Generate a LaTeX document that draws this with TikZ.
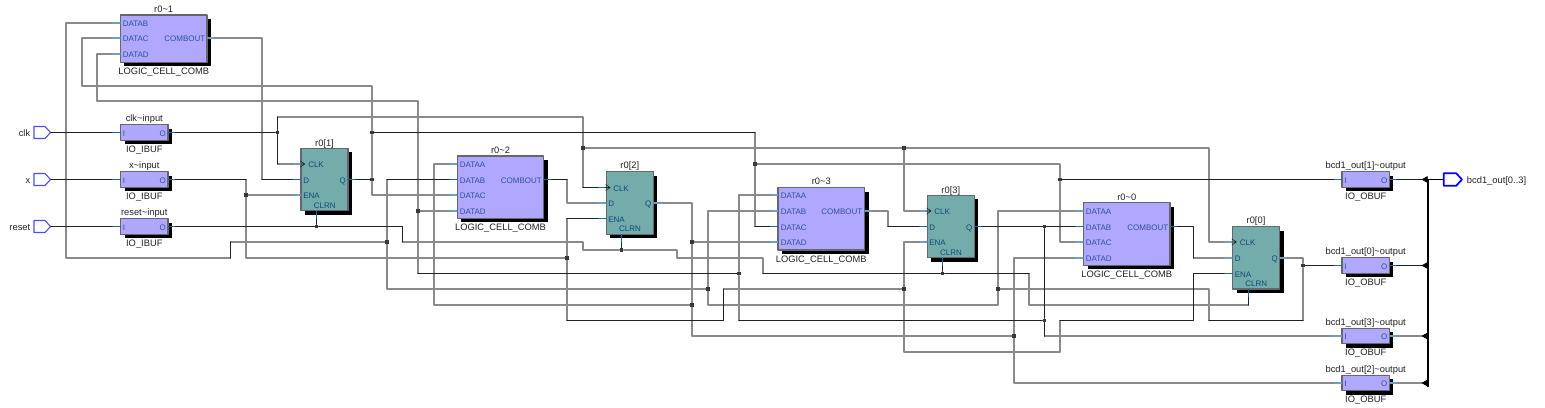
\documentclass[tikz,border=0pt]{standalone}
\usepackage{fontspec}
\setmainfont{Liberation Sans}
\usetikzlibrary{arrows.meta,shadows,shapes.symbols}
\pgfdeclarelayer{front}
\pgfsetlayers{main,front}
\definecolor{lavcell}{HTML}{B0A8FF}
\definecolor{tealcell}{HTML}{74ACAC}
\definecolor{cellline}{HTML}{666670}
\definecolor{wirecol}{HTML}{222222}
\definecolor{gwirecol}{HTML}{8A8A8A}
\definecolor{stubcol}{HTML}{1A6A9A}
\definecolor{gstubcol}{HTML}{6FA0BE}
\definecolor{lavtext}{HTML}{2F4F9F}
\definecolor{tealtext}{HTML}{104A70}
\tikzset{
  cellbox/.style={draw=cellline,line width=0.9pt,inner sep=0pt,general shadow={shadow xshift=3pt,shadow yshift=-3pt,fill=black}},
  lcell/.style={cellbox,fill=lavcell,minimum width=64.9pt},
  ffcell/.style={cellbox,fill=tealcell,minimum width=35.25pt,minimum height=46.9pt},
  iocell/.style={cellbox,fill=lavcell,minimum width=35.6pt,minimum height=11.5pt},
  celltext/.style={inner sep=0pt,text height=6.5pt,text depth=0.9pt,text=wirecol,font=\fontsize{7}{8}\selectfont},
  lavport/.style={inner sep=0pt,text height=5.4pt,text depth=0pt,text=lavtext,font=\fontsize{6}{7}\selectfont},
  ffport/.style={inner sep=0pt,text height=5.4pt,text depth=0pt,text=tealtext,font=\fontsize{6}{7}\selectfont},
  wire/.style={draw=wirecol,line width=0.85pt},
  gwire/.style={draw=gwirecol,line width=0.85pt},
  stub/.style={draw=stubcol,line width=0.85pt},
  gstub/.style={draw=gstubcol,line width=0.85pt},
  jdot/.style={fill=wirecol!90,inner sep=0pt,minimum size=2.8pt},
  inpin/.style={draw=blue!70!white,fill=white,line width=0.8pt,shape=signal,signal to=east,signal from=nowhere,signal pointer angle=95,inner sep=0pt,minimum width=12.4pt,minimum height=9pt},
  outpin/.style={draw=blue,fill=white,line width=1.3pt,shape=signal,signal to=east,signal from=nowhere,signal pointer angle=95,inner sep=0pt,minimum width=13.6pt,minimum height=9.4pt},
  bus/.style={draw=black,line width=1.3pt},
  bustip/.style={draw=black,line width=0.5pt,-{Triangle[length=4.6pt,width=5pt]}}
}
\begin{document}
\begin{tikzpicture}[line cap=round,line join=round,x=0.75pt,y=-0.75pt]
\useasboundingbox (0,0) rectangle (1545,407);
\node[inpin] (clkpin) at (39.5,132.5) {};
\node[inpin] (xpin) at (39.5,179.5) {};
\node[inpin] (resetpin) at (39.5,226.5) {};
\node[celltext,anchor=east] (clkpinname) at (30.5,132.5) {clk};
\node[celltext,anchor=east] (xpinname) at (30.5,179.5) {x};
\node[celltext,anchor=east] (resetpinname) at (30.5,226.5) {reset};
\node[iocell] (clkbuf) at (144.3,132.5) {};
\node[iocell] (xbuf) at (144.3,179.5) {};
\node[iocell] (resetbuf) at (144.3,226.5) {};
\node[lavport,anchor=west] (clkbufi) at (122.5,132.5) {I};
\node[lavport,anchor=east] (clkbufo) at (166,132.5) {O};
\node[lavport,anchor=west] (xbufi) at (122.5,179.5) {I};
\node[lavport,anchor=east] (xbufo) at (166,179.5) {O};
\node[lavport,anchor=west] (resetbufi) at (122.5,226.5) {I};
\node[lavport,anchor=east] (resetbufo) at (166,226.5) {O};
\node[celltext] (clkbufname) at (144.3,118) {clk\textasciitilde input};
\node[celltext] (clkbuftype) at (144.3,149) {IO\_IBUF};
\node[celltext] (xbufname) at (144.3,165) {x\textasciitilde input};
\node[celltext] (xbuftype) at (144.3,196) {IO\_IBUF};
\node[celltext] (resetbufname) at (144.3,212) {reset\textasciitilde input};
\node[celltext] (resetbuftype) at (144.3,243) {IO\_IBUF};
\node[lcell,minimum height=35.5pt] (lc1) at (163.7,38.7) {};
\node[lavport,anchor=west] (lc1b) at (122.5,23) {DATAB};
\node[lavport,anchor=west] (lc1c) at (122.5,38) {DATAC};
\node[lavport,anchor=west] (lc1d) at (122.5,54) {DATAD};
\node[lavport,anchor=east] (lc1out) at (205.5,38) {COMBOUT};
\node[celltext] (lc1name) at (163.7,9) {r0\textasciitilde 1};
\node[celltext] (lc1type) at (163.7,71) {LOGIC\_CELL\_COMB};
\node[lcell,minimum height=46.7pt] (lc2) at (500.5,187.2) {};
\node[lavport,anchor=west] (lc2a) at (459.5,164) {DATAA};
\node[lavport,anchor=west] (lc2b) at (459.5,179.5) {DATAB};
\node[lavport,anchor=west] (lc2c) at (459.5,195) {DATAC};
\node[lavport,anchor=west] (lc2d) at (459.5,211) {DATAD};
\node[lavport,anchor=east] (lc2out) at (542,179.5) {COMBOUT};
\node[celltext] (lc2name) at (500.5,150) {r0\textasciitilde 2};
\node[celltext] (lc2type) at (500.5,227) {LOGIC\_CELL\_COMB};
\node[lcell,minimum height=46.7pt] (lc3) at (821.3,218.8) {};
\node[lavport,anchor=west] (lc3a) at (780.5,195) {DATAA};
\node[lavport,anchor=west] (lc3b) at (780.5,211) {DATAB};
\node[lavport,anchor=west] (lc3c) at (780.5,226.5) {DATAC};
\node[lavport,anchor=west] (lc3d) at (780.5,242) {DATAD};
\node[lavport,anchor=east] (lc3out) at (862.5,211) {COMBOUT};
\node[celltext] (lc3name) at (821.3,181) {r0\textasciitilde 3};
\node[celltext] (lc3type) at (821.3,259) {LOGIC\_CELL\_COMB};
\node[lcell,minimum height=46.7pt] (lc0) at (1126.8,234) {};
\node[lavport,anchor=west] (lc0a) at (1085.5,211) {DATAA};
\node[lavport,anchor=west] (lc0b) at (1085.5,226.5) {DATAB};
\node[lavport,anchor=west] (lc0c) at (1085.5,242) {DATAC};
\node[lavport,anchor=west] (lc0d) at (1085.5,258) {DATAD};
\node[lavport,anchor=east] (lc0out) at (1168.5,226.5) {COMBOUT};
\node[celltext] (lc0name) at (1126.8,197) {r0\textasciitilde 0};
\node[celltext] (lc0type) at (1126.8,273.7) {LOGIC\_CELL\_COMB};
\node[ffcell] (ff1) at (324.5,179.5) {};
\node[ffport,anchor=west] (ff1clk) at (308,164) {CLK};
\node[ffport,anchor=west] (ff1d) at (303,179.5) {D};
\node[ffport,anchor=west] (ff1ena) at (303,195) {ENA};
\node[ffport,anchor=east] (ff1q) at (346,179.5) {Q};
\node[ffport] (ff1clrn) at (324.7,205) {CLRN};
\node[celltext] (ff1name) at (324.5,142.7) {r0[1]};
\node[ffcell] (ff2) at (629.8,203) {};
\node[ffport,anchor=west] (ff2clk) at (613,187.5) {CLK};
\node[ffport,anchor=west] (ff2d) at (608,203) {D};
\node[ffport,anchor=west] (ff2ena) at (608,218.5) {ENA};
\node[ffport,anchor=east] (ff2q) at (651.5,203) {Q};
\node[ffport] (ff2clrn) at (630,228.3) {CLRN};
\node[celltext] (ff2name) at (629.8,165) {r0[2]};
\node[ffcell] (ff3) at (950.8,226.5) {};
\node[ffport,anchor=west] (ff3clk) at (934,211) {CLK};
\node[ffport,anchor=west] (ff3d) at (929,226.5) {D};
\node[ffport,anchor=west] (ff3ena) at (929,242) {ENA};
\node[ffport,anchor=east] (ff3q) at (972.5,226.5) {Q};
\node[ffport] (ff3clrn) at (951,252) {CLRN};
\node[celltext] (ff3name) at (950.8,189.3) {r0[3]};
\node[ffcell] (ff0) at (1256,257.8) {};
\node[ffport,anchor=west] (ff0clk) at (1239.5,242) {CLK};
\node[ffport,anchor=west] (ff0d) at (1234.5,258) {D};
\node[ffport,anchor=west] (ff0ena) at (1234.5,273.5) {ENA};
\node[ffport,anchor=east] (ff0q) at (1278,258) {Q};
\node[ffport] (ff0clrn) at (1256.3,283) {CLRN};
\node[celltext] (ff0name) at (1256,220) {r0[0]};
\node[iocell] (obuf1) at (1365.7,179.5) {};
\node[iocell] (obuf0) at (1365.7,265.5) {};
\node[iocell] (obuf3) at (1365.7,336) {};
\node[iocell] (obuf2) at (1365.7,383) {};
\node[lavport,anchor=west] (obuf1i) at (1344,179.5) {I};
\node[lavport,anchor=east] (obuf1o) at (1387.5,179.5) {O};
\node[lavport,anchor=west] (obuf0i) at (1344,265.5) {I};
\node[lavport,anchor=east] (obuf0o) at (1387.5,265.5) {O};
\node[lavport,anchor=west] (obuf3i) at (1344,336) {I};
\node[lavport,anchor=east] (obuf3o) at (1387.5,336) {O};
\node[lavport,anchor=west] (obuf2i) at (1344,383) {I};
\node[lavport,anchor=east] (obuf2o) at (1387.5,383) {O};
\node[celltext] (obuf1name) at (1365.7,165) {bcd1\_out[1]\textasciitilde output};
\node[celltext] (obuf1type) at (1365.7,196) {IO\_OBUF};
\node[celltext] (obuf0name) at (1365.7,251) {bcd1\_out[0]\textasciitilde output};
\node[celltext] (obuf0type) at (1365.7,282) {IO\_OBUF};
\node[celltext] (obuf3name) at (1365.7,322) {bcd1\_out[3]\textasciitilde output};
\node[celltext] (obuf3type) at (1365.7,351.7) {IO\_OBUF};
\node[celltext] (obuf2name) at (1365.7,369) {bcd1\_out[2]\textasciitilde output};
\node[celltext] (obuf2type) at (1365.7,399) {IO\_OBUF};
\node[outpin] (outbus) at (1450,179.5) {};
\node[celltext,anchor=west] (outbusname) at (1466.7,179.5) {bcd1\_out[0..3]};
\coordinate (bustop) at (1428,179.5);
\coordinate (busbot) at (1428,386.5);
\coordinate (jr4) at (1248.5,305);
\begin{pgfonlayer}{front}
\node[jdot] (jclk1) at (277.5,132.5) {};
\node[jdot] (jclk2) at (583,148) {};
\node[jdot] (jclk3) at (904,148) {};
\node[jdot] (jx1) at (246,195) {};
\node[jdot] (jx2) at (567,258) {};
\node[jdot] (jx3) at (904,289) {};
\node[jdot] (jr1) at (316.5,226.5) {};
\node[jdot] (jr2) at (621.5,250) {};
\node[jdot] (jr3) at (942.5,273.5) {};
\node[jdot] (jq1a) at (372,132.5) {};
\node[jdot] (jq1b) at (372,179.5) {};
\node[jdot] (jq1c) at (755,164) {};
\node[jdot] (jq1d) at (1060,179.5) {};
\node[jdot] (jq3a) at (418,211) {};
\node[jdot] (jq3b) at (739,273.5) {};
\node[jdot] (jq3c) at (1044.5,320.5) {};
\node[jdot] (jq3d) at (1044.5,226.5) {};
\node[jdot] (jq0a) at (387,242) {};
\node[jdot] (jq0b) at (708,289) {};
\node[jdot] (jq0c) at (998,289) {};
\node[jdot] (jq0d) at (1303,265.5) {};
\node[jdot] (jq2a) at (692,242) {};
\node[jdot] (jq2b) at (692,305) {};
\node[jdot] (jq2c) at (1014,336) {};
\end{pgfonlayer}
\draw[gwire] (277.5,117) -- (583,117) -- (jclk2);
\draw[gwire] (277.5,164) -- (ff1clk -| ff1.west);
\draw[gwire] (jclk2) -- (583,187.5);
\draw[gwire] (jclk2) -- (jclk3);
\draw[gwire] (jclk3) -- (904,211) -- (ff3clk -| ff3.west);
\draw[gwire] (jclk3) -- (1209,148) -- (1209,242) -- (ff0clk -| ff0.west);
\draw[gwire] (246,179.5) -- (jx1);
\draw[gwire] (jx1) -- (ff1ena -| ff1.west);
\draw[gwire] (jx1) -- (246,258) -- (jx2);
\draw[gwire] (jx2) -- (567,218.5);
\draw[gwire] (jx2) -- (567,320.5);
\draw[gwire] (723.5,289) -- (jx3);
\draw[gwire] (jx3) -- (904,242) -- (ff3ena -| ff3.west);
\draw[gwire] (jx3) -- (904,352) -- (1060,352) -- (1060,320.5);
\draw[gwire] (402.5,242) -- (583,242) -- (583,250) -- (jr2);
\draw[gwire] (jr2) -- (677,250) -- (677,258) -- (763,258) -- (763,273.5);
\draw[gwire] (1029,273.5) -- (1029,305) -- (jr4);
\draw[gwire] (lc1out -| lc1.east) -- (262,38) -- (262,179.5);
\draw[gwire] (567,179.5) -- (567,203) -- (ff2d -| ff2.west);
\draw[gwire] (lc3out -| lc3.east) -- (888,211) -- (888,226.5);
\draw[gwire] (1193.5,258) -- (ff0d -| ff0.west);
\draw[gwire] (lc1c -| lc1.west) -- (82,38) -- (82,86) -- (372,86) -- (jq1a);
\draw[gwire] (jq1a) -- (jq1b) -- (372,195) -- (lc2c -| lc2.west);
\draw[gwire] (755,132.5) -- (jq1c);
\draw[gwire] (jq1c) -- (755,226.5);
\draw[gwire] (jq1c) -- (1060,164) -- (jq1d);
\draw[gwire] (jq1d) -- (1060,242) -- (lc0c -| lc0.west);
\draw[gwire] (lc1d -| lc1.west) -- (97,54) -- (97,101) -- (418,101) -- (jq3a);
\draw[gwire] (jq3a) -- (lc2d -| lc2.west);
\draw[gwire] (jq3a) -- (418,273.5);
\draw[gwire] (jq3b) -- (739,195) -- (lc3a -| lc3.west);
\draw[gwire] (jq3b) -- (739,320.5);
\draw[gwire] (1044.5,336) -- (obuf3i -| obuf3.west);
\draw[gwire] (lc1b -| lc1.west) -- (66,23) -- (66,258) -- (230.5,258);
\draw[gwire] (230.5,242) -- (jq0a);
\draw[gwire] (387,179.5) -- (jq0a);
\draw[gwire] (jq0a) -- (387,289) -- (jq0b);
\draw[gwire] (lc3b -| lc3.west) -- (708,211) -- (jq0b);
\draw[gwire] (jq0b) -- (708,305) -- (998,305) -- (jq0c);
\draw[gwire] (jq0c) -- (998,211) -- (lc0a -| lc0.west);
\draw[gwire] (jq0c) -- (1209,289) -- (1209,320.5);
\draw[gwire] (1303,320.5) -- (jq0d);
\draw[gwire] (ff0q -| ff0.east) -- (1303,258) -- (jq0d);
\draw[gwire] (ff2q -| ff2.east) -- (692,203) -- (jq2a);
\draw[gwire] (jq2a) -- (lc3d -| lc3.west);
\draw[gwire] (jq2a) -- (jq2b);
\draw[gwire] (jq2b) -- (434,305) -- (434,164) -- (lc2a -| lc2.west);
\draw[gwire] (jq2b) -- (692,336) -- (jq2c);
\draw[gwire] (jq2c) -- (1014,258) -- (lc0d -| lc0.west);
\draw[gwire] (jq2c) -- (1014,383) -- (obuf2i -| obuf2.west);
\draw[gwire] (obuf3o -| obuf3.east) -- (obuf3o -| bustop);
\draw[gwire] (obuf2o -| obuf2.east) -- (obuf2o -| bustop);
\draw[wire] (clkpin.east) -- (clkbufi -| clkbuf.west);
\draw[wire] (xpin.east) -- (xbufi -| xbuf.west);
\draw[wire] (resetpin.east) -- (resetbufi -| resetbuf.west);
\draw[wire] (clkbufo -| clkbuf.east) -- (jclk1);
\draw[wire] (jclk1) -- (277.5,117);
\draw[wire] (jclk1) -- (277.5,164);
\draw[wire] (583,187.5) -- (ff2clk -| ff2.west);
\draw[wire] (xbufo -| xbuf.east) -- (246,179.5);
\draw[wire] (567,218.5) -- (ff2ena -| ff2.west);
\draw[wire] (567,320.5) -- (723.5,320.5) -- (723.5,289);
\draw[wire] (1060,320.5) -- (1193.5,320.5) -- (1193.5,273.5) -- (ff0ena -| ff0.west);
\draw[wire] (resetbufo -| resetbuf.east) -- (jr1);
\draw[wire] (jr1) -- (jr1 |- ff1.south);
\draw[wire] (jr1) -- (402.5,226.5) -- (402.5,242);
\draw[wire] (jr2) -- (jr2 |- ff2.south);
\draw[wire] (763,273.5) -- (jr3);
\draw[wire] (jr3) -- (jr3 |- ff3.south);
\draw[wire] (jr3) -- (1029,273.5);
\draw[wire] (jr4) -- (jr4 |- ff0.south);
\draw[wire] (262,179.5) -- (ff1d -| ff1.west);
\draw[wire] (lc2out -| lc2.east) -- (567,179.5);
\draw[wire] (888,226.5) -- (ff3d -| ff3.west);
\draw[wire] (lc0out -| lc0.east) -- (1193.5,226.5) -- (1193.5,258);
\draw[wire] (ff1q -| ff1.east) -- (jq1b);
\draw[wire] (jq1a) -- (755,132.5);
\draw[wire] (755,226.5) -- (lc3c -| lc3.west);
\draw[wire] (jq1d) -- (obuf1i -| obuf1.west);
\draw[wire] (418,273.5) -- (jq3b);
\draw[wire] (739,320.5) -- (jq3c);
\draw[wire] (jq3c) -- (jq3d);
\draw[wire] (ff3q -| ff3.east) -- (jq3d);
\draw[wire] (jq3d) -- (lc0b -| lc0.west);
\draw[wire] (jq3c) -- (1044.5,336);
\draw[wire] (230.5,258) -- (230.5,242);
\draw[wire] (lc2b -| lc2.west) -- (387,179.5);
\draw[wire] (1209,320.5) -- (1303,320.5);
\draw[wire] (jq0d) -- (obuf0i -| obuf0.west);
\draw[wire] (obuf1o -| obuf1.east) -- (obuf1o -| bustop);
\draw[wire] (obuf0o -| obuf0.east) -- (obuf0o -| bustop);
\draw[bus] (busbot) -- (bustop) -- (outbus.west);
\draw[bustip] (obuf1o -| bustop) -- +(-6.5,0);
\draw[bustip] (obuf0o -| bustop) -- +(-6.5,0);
\draw[bustip] (obuf3o -| bustop) -- +(-6.5,0);
\draw[bustip] (obuf2o -| bustop) -- +(-6.5,0);
\draw[stub] (clkbufi -| clkbuf.west) -- +(-7,0);
\draw[stub] (clkbufo -| clkbuf.east) -- +(6,0);
\draw[stub] (xbufi -| xbuf.west) -- +(-7,0);
\draw[stub] (xbufo -| xbuf.east) -- +(6,0);
\draw[stub] (resetbufi -| resetbuf.west) -- +(-7,0);
\draw[stub] (resetbufo -| resetbuf.east) -- +(6,0);
\draw[gstub] (lc1b -| lc1.west) -- +(-7,0);
\draw[gstub] (lc1c -| lc1.west) -- +(-7,0);
\draw[gstub] (lc1d -| lc1.west) -- +(-7,0);
\draw[gstub] (lc1out -| lc1.east) -- +(6,0);
\draw[gstub] (lc2a -| lc2.west) -- +(-7,0);
\draw[stub] (lc2b -| lc2.west) -- +(-7,0);
\draw[gstub] (lc2c -| lc2.west) -- +(-7,0);
\draw[gstub] (lc2d -| lc2.west) -- +(-7,0);
\draw[stub] (lc2out -| lc2.east) -- +(6,0);
\draw[gstub] (lc3a -| lc3.west) -- +(-7,0);
\draw[gstub] (lc3b -| lc3.west) -- +(-7,0);
\draw[stub] (lc3c -| lc3.west) -- +(-7,0);
\draw[gstub] (lc3d -| lc3.west) -- +(-7,0);
\draw[gstub] (lc3out -| lc3.east) -- +(6,0);
\draw[gstub] (lc0a -| lc0.west) -- +(-7,0);
\draw[stub] (lc0b -| lc0.west) -- +(-7,0);
\draw[gstub] (lc0c -| lc0.west) -- +(-7,0);
\draw[gstub] (lc0d -| lc0.west) -- +(-7,0);
\draw[stub] (lc0out -| lc0.east) -- +(6,0);
\draw[gstub] (ff1clk -| ff1.west) -- +(-7,0);
\draw[stub] (ff1d -| ff1.west) -- +(-7,0);
\draw[gstub] (ff1ena -| ff1.west) -- +(-7,0);
\draw[stub] (ff1q -| ff1.east) -- +(6,0);
\draw[stub] (jr1 |- ff1.south) -- +(0,7);
\draw[stub] (ff2clk -| ff2.west) -- +(-7,0);
\draw[gstub] (ff2d -| ff2.west) -- +(-7,0);
\draw[stub] (ff2ena -| ff2.west) -- +(-7,0);
\draw[gstub] (ff2q -| ff2.east) -- +(6,0);
\draw[stub] (jr2 |- ff2.south) -- +(0,7);
\draw[gstub] (ff3clk -| ff3.west) -- +(-7,0);
\draw[stub] (ff3d -| ff3.west) -- +(-7,0);
\draw[gstub] (ff3ena -| ff3.west) -- +(-7,0);
\draw[stub] (ff3q -| ff3.east) -- +(6,0);
\draw[stub] (jr3 |- ff3.south) -- +(0,7);
\draw[gstub] (ff0clk -| ff0.west) -- +(-7,0);
\draw[gstub] (ff0d -| ff0.west) -- +(-7,0);
\draw[stub] (ff0ena -| ff0.west) -- +(-7,0);
\draw[gstub] (ff0q -| ff0.east) -- +(6,0);
\draw[stub] (jr4 |- ff0.south) -- +(0,7);
\draw[stub] (obuf1i -| obuf1.west) -- +(-7,0);
\draw[stub] (obuf1o -| obuf1.east) -- +(6,0);
\draw[stub] (obuf0i -| obuf0.west) -- +(-7,0);
\draw[stub] (obuf0o -| obuf0.east) -- +(6,0);
\draw[gstub] (obuf3i -| obuf3.west) -- +(-7,0);
\draw[gstub] (obuf3o -| obuf3.east) -- +(6,0);
\draw[gstub] (obuf2i -| obuf2.west) -- +(-7,0);
\draw[gstub] (obuf2o -| obuf2.east) -- +(6,0);
\draw[wirecol] (ff1clk -| ff1.west) -- ++(4.5,0) -- ++(-4.5,-3) (ff1clk -| ff1.west) ++(4.5,0) -- ++(-4.5,3);
\draw[wirecol] (ff2clk -| ff2.west) -- ++(4.5,0) -- ++(-4.5,-3) (ff2clk -| ff2.west) ++(4.5,0) -- ++(-4.5,3);
\draw[wirecol] (ff3clk -| ff3.west) -- ++(4.5,0) -- ++(-4.5,-3) (ff3clk -| ff3.west) ++(4.5,0) -- ++(-4.5,3);
\draw[wirecol] (ff0clk -| ff0.west) -- ++(4.5,0) -- ++(-4.5,-3) (ff0clk -| ff0.west) ++(4.5,0) -- ++(-4.5,3);
\end{tikzpicture}
\end{document}
